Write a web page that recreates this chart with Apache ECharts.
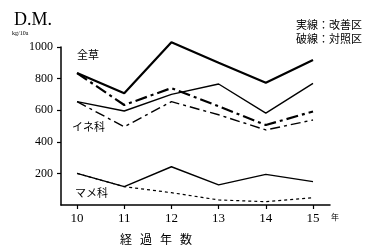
<!DOCTYPE html>
<html><head><meta charset="utf-8">
<script src="https://cdn.jsdelivr.net/npm/echarts@6/dist/echarts.min.js"></script>
<style>html,body{margin:0;padding:0;background:#fff}#c{width:386px;height:252px}</style>
</head><body><div id="c"></div>
<script>
const years = [10, 11, 12, 13, 14, 15];
const yTicks = [200, 400, 600, 800, 1000];
const zensouKaizen = [835, 707, 1030, 900, 774, 918];
const zensouTaisho = [835, 633, 740, 625, 506, 592];
const ineKaizen = [654, 595, 700, 766, 582, 770];
const ineTaisho = [654, 495, 654, 571, 475, 538];
const mameKaizen = [200, 116, 242, 127, 194, 148];
const mameTaisho = [200, 116, 78, 32, 21, 46];
const xTitleChars = ['経', '過', '年', '数'];

const CJK = '"Noto Sans CJK JP", sans-serif';
const SERIF = '"Liberation Serif", "DejaVu Serif", serif';
const pair = arr => arr.map((v, i) => [years[i], v]);
function line(data, width, type) {
  return { type: 'line', data: pair(data), symbol: 'none', silent: true, clip: false,
    lineStyle: { color: '#000', width: width, type: type }, z: 3 };
}
const chart = echarts.init(document.getElementById('c'), null, { renderer: 'canvas' });
const graphics = [
  { type: 'text', left: 14, top: 11, style: { text: 'D.M.', font: '18px ' + SERIF, fill: '#000' } },
  { type: 'text', left: 12, top: 30, style: { text: 'kg/10a', font: '6px ' + SERIF, fill: '#000' } },
  { type: 'text', left: 77, top: 49, style: { text: '全草', font: '11px ' + CJK, fill: '#000' } },
  { type: 'text', left: 72, top: 121, style: { text: 'イネ科', font: '11px ' + CJK, fill: '#000' } },
  { type: 'text', left: 75, top: 187, style: { text: 'マメ科', font: '11px ' + CJK, fill: '#000' } },
  { type: 'text', left: 296, top: 19, style: { text: '実線：改善区', font: '11px ' + CJK, fill: '#000' } },
  { type: 'text', left: 296, top: 33, style: { text: '破線：対照区', font: '11px ' + CJK, fill: '#000' } },
  { type: 'text', left: 331, top: 213, style: { text: '年', font: '8px ' + CJK, fill: '#000' } }
];
xTitleChars.forEach((ch, i) => {
  graphics.push({ type: 'text', left: 120 + i * 20, top: 233, style: { text: ch, font: '12px ' + CJK, fill: '#000' } });
});
chart.setOption({
  animation: false,
  grid: { left: 61, right: 56, top: 47, bottom: 47 },
  xAxis: {
    type: 'value', min: 9.66, max: 15.36,
    axisLine: { lineStyle: { color: '#000', width: 1.5 } },
    axisTick: { customValues: years, length: 4, lineStyle: { color: '#000', width: 1.2 } },
    axisLabel: { customValues: years, color: '#000', fontFamily: SERIF, fontSize: 13, margin: 7, formatter: v => String(v) },
    splitLine: { show: false }
  },
  yAxis: {
    type: 'value', min: 0, max: 1000,
    axisLine: { show: true, lineStyle: { color: '#000', width: 1.5 } },
    axisTick: { show: true, customValues: yTicks, length: 4, lineStyle: { color: '#000', width: 1.2 } },
    axisLabel: { customValues: yTicks, color: '#000', fontFamily: SERIF, fontSize: 12, margin: 8, formatter: v => String(v) },
    splitLine: { show: false }
  },
  series: [
    line(zensouKaizen, 2.2, 'solid'),
    line(zensouTaisho, 2.2, [12, 4, 3, 4]),
    line(ineKaizen, 1.4, 'solid'),
    line(ineTaisho, 1.4, [10, 4, 3, 4]),
    line(mameKaizen, 1.4, 'solid'),
    line(mameTaisho, 1.2, [3, 3])
  ],
  graphic: graphics
});
</script></body></html>
